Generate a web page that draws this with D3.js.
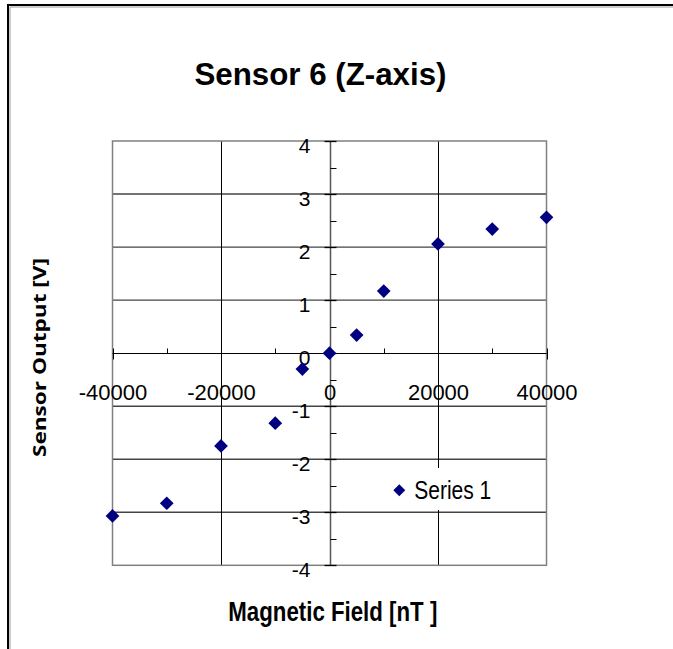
<!DOCTYPE html>
<html>
<head>
<meta charset="utf-8">
<script src="https://cdn.jsdelivr.net/npm/d3@7"></script>
<style>
  html, body { margin: 0; padding: 0; background: #fff; }
  svg { display: block; }
  text { font-family: "Liberation Sans", Arial, sans-serif; fill: #000; }
</style>
</head>
<body>
<svg id="chart" width="673" height="649"></svg>
<script>
// Sensor 6 (Z-axis) calibration: applied field vs. measured output
const fieldNT = [-40000, -30000, -20000, -10000, -5000, 0, 5000, 10000, 20000, 30000, 40000];
const outputV = [-3.07, -2.83, -1.75, -1.32, -0.30, 0, 0.34, 1.17, 2.06, 2.34, 2.56];
const xTicks = [-40000, -20000, 0, 20000, 40000];
const xMinorTicks = [-30000, -10000, 10000, 30000];
const yTicks = [-4, -3, -2, -1, 0, 1, 2, 3, 4];
const yMinorTicks = [-3.5, -2.5, -1.5, -0.5, 0.5, 1.5, 2.5, 3.5];
const seriesName = "Series 1";
const titleText = "Sensor 6 (Z-axis)";
const xTitle = "Magnetic Field [nT ]";
const yTitle = "Sensor Output [V]";

const svg = d3.select("#chart");

// outer chart frame (runs past the right and bottom edges)
svg.append("path")
  .attr("d", "M8,700 L8,5 L700,5")
  .attr("fill", "none").attr("stroke", "#000").attr("stroke-width", 2);
svg.append("path")
  .attr("d", "M10,700 L10,7 L700,7")
  .attr("fill", "none").attr("stroke", "#999").attr("stroke-width", 1);

const x = d3.scaleLinear().domain([-40000, 40000]).range([112.5, 546.5]);
const y = d3.scaleLinear().domain([-4, 4]).range([565.3, 141]);

// plain hyphen-minus labels
const fmt = d => String(d);

// horizontal gridlines
svg.append("g").selectAll("line")
  .data(yTicks.filter(v => v !== 0 && Math.abs(v) !== 4))
  .join("line")
  .attr("x1", x(-40000)).attr("x2", x(40000))
  .attr("y1", d => y(d)).attr("y2", d => y(d))
  .attr("stroke", "#444").attr("stroke-width", 1.4);

// vertical gridlines
svg.append("g").selectAll("line")
  .data(xTicks.filter(v => v !== 0 && Math.abs(v) !== 40000))
  .join("line")
  .attr("x1", d => Math.round(x(d)) + 0.5).attr("x2", d => Math.round(x(d)) + 0.5)
  .attr("y1", y(4)).attr("y2", y(-4))
  .attr("stroke", "#000").attr("stroke-width", 1);

// plot area border
svg.append("rect")
  .attr("x", x(-40000)).attr("y", y(4))
  .attr("width", x(40000) - x(-40000)).attr("height", y(-4) - y(4))
  .attr("fill", "none").attr("stroke", "#808080").attr("stroke-width", 1.5);

// x axis through y = 0
const x0 = Math.round(x(0)) + 0.5;
const y0 = Math.round(y(0)) + 0.5;
svg.append("line")
  .attr("x1", x(-40000)).attr("x2", x(40000)).attr("y1", y0).attr("y2", y0)
  .attr("stroke", "#000").attr("stroke-width", 1);
svg.append("g").selectAll("line").data(xTicks).join("line")
  .attr("x1", d => Math.round(x(d)) + 0.5).attr("x2", d => Math.round(x(d)) + 0.5)
  .attr("y1", y0 - 5).attr("y2", y0 + 6)
  .attr("stroke", "#000");
svg.append("g").selectAll("line").data(xMinorTicks).join("line")
  .attr("x1", d => Math.round(x(d)) + 0.5).attr("x2", d => Math.round(x(d)) + 0.5)
  .attr("y1", y0 - 5).attr("y2", y0)
  .attr("stroke", "#000");

// y axis through x = 0
svg.append("line")
  .attr("x1", x0).attr("x2", x0).attr("y1", y(4)).attr("y2", y(-4))
  .attr("stroke", "#555").attr("stroke-width", 1.5);
svg.append("g").selectAll("line").data(yTicks).join("line")
  .attr("x1", x0 - 6).attr("x2", x0 + 6)
  .attr("y1", d => Math.round(y(d)) + 0.5).attr("y2", d => Math.round(y(d)) + 0.5)
  .attr("stroke", "#000").attr("stroke-width", 1.3);
svg.append("g").selectAll("line").data(yMinorTicks).join("line")
  .attr("x1", x0).attr("x2", x0 + 6)
  .attr("y1", d => Math.round(y(d)) + 0.5).attr("y2", d => Math.round(y(d)) + 0.5)
  .attr("stroke", "#000");

// tick labels via d3 axes (lines hidden, labels only)
const xAxis = svg.append("g")
  .attr("transform", `translate(0,${y(0)})`)
  .call(d3.axisBottom(x).tickValues(xTicks).tickFormat(fmt).tickSize(0).tickPadding(0));
xAxis.select(".domain").remove();
xAxis.selectAll("text")
  .attr("y", 47).attr("dy", null)
  .style("font-size", "22px")
  .style("font-family", "'Liberation Sans', Arial, sans-serif");

const yAxis = svg.append("g")
  .attr("transform", `translate(${x(0)},0)`)
  .call(d3.axisLeft(y).tickValues(yTicks).tickFormat(fmt).tickSize(0).tickPadding(0));
yAxis.select(".domain").remove();
yAxis.selectAll("text")
  .attr("x", -19).attr("dy", null).attr("y", 11)
  .style("font-size", "21px")
  .style("font-family", "'Liberation Sans', Arial, sans-serif");

// data markers: navy diamonds
const diamond = d3.symbol().type(d3.symbolDiamond2).size(120);
svg.append("g").selectAll("path")
  .data(fieldNT.map((f, i) => [f, outputV[i]]))
  .join("path")
  .attr("d", diamond)
  .attr("transform", d => `translate(${x(d[0])},${y(d[1])})`)
  .attr("fill", "#000080");

// legend
svg.append("rect")
  .attr("x", 384).attr("y", 468).attr("width", 116).attr("height", 42)
  .attr("fill", "#fff");
svg.append("path")
  .attr("d", d3.symbol().type(d3.symbolDiamond2).size(90))
  .attr("transform", "translate(399.3,490.3)")
  .attr("fill", "#000080");
svg.append("text")
  .attr("x", 414.3).attr("y", 499.3)
  .attr("textLength", 77).attr("lengthAdjust", "spacingAndGlyphs")
  .style("font-size", "26px")
  .text(seriesName);

// chart title
svg.append("text")
  .attr("x", 320.5).attr("y", 85)
  .attr("text-anchor", "middle")
  .attr("textLength", 252).attr("lengthAdjust", "spacingAndGlyphs")
  .style("font-size", "32px").style("font-weight", "bold")
  .text(titleText);

// axis titles
svg.append("text")
  .attr("x", 332.8).attr("y", 621)
  .attr("text-anchor", "middle")
  .attr("textLength", 209).attr("lengthAdjust", "spacingAndGlyphs")
  .style("font-size", "27px").style("font-weight", "bold")
  .text(xTitle);

svg.append("text")
  .attr("transform", "translate(46,357.5) rotate(-90)")
  .attr("text-anchor", "middle")
  .attr("textLength", 199).attr("lengthAdjust", "spacingAndGlyphs")
  .style("font-size", "18.5px").style("font-weight", "bold")
  .style("font-family", "'Open Sans', 'DejaVu Sans', sans-serif")
  .text(yTitle);
</script>
</body>
</html>
